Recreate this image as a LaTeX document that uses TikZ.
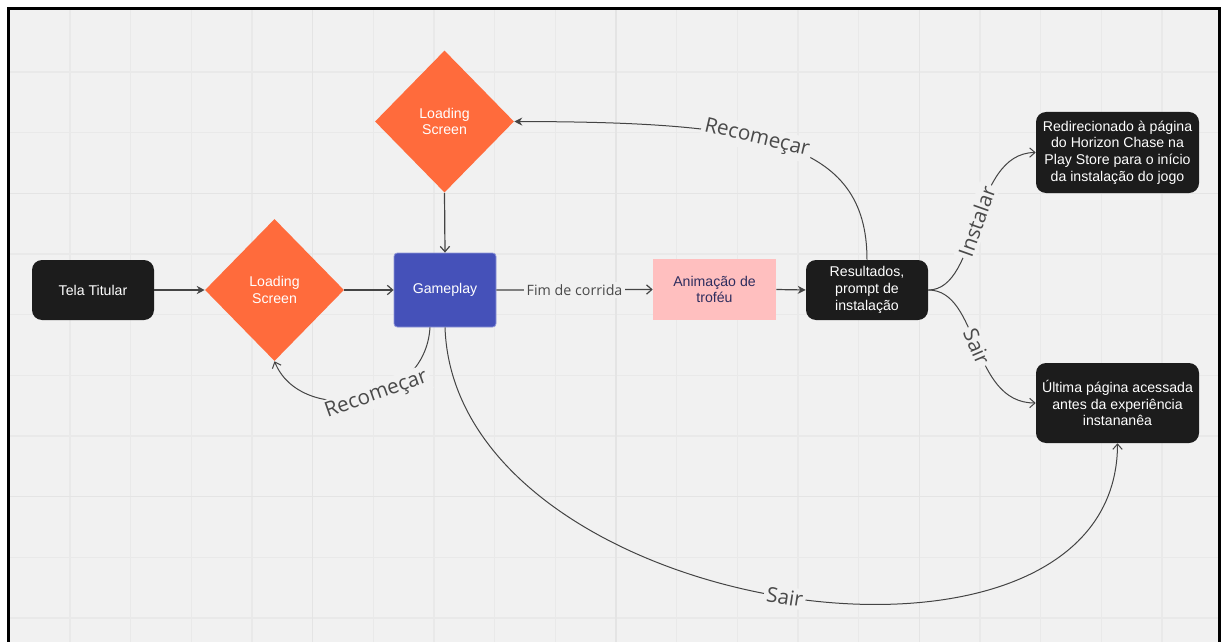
\documentclass[tikz,border=0pt]{standalone}
\usepackage{fontspec}
\setmainfont{Liberation Sans}
\newfontfamily\lblfont{Open Sans}
\usetikzlibrary{arrows.meta,shapes.geometric}
\definecolor{bgc}{HTML}{F1F1F1}
\definecolor{gridc}{HTML}{E9E9E9}
\definecolor{gridd}{HTML}{E4E4E4}
\definecolor{blk}{HTML}{1C1C1C}
\definecolor{orng}{HTML}{FF6B3C}
\definecolor{blu}{HTML}{4551B9}
\definecolor{blub}{HTML}{8E95D8}
\definecolor{pnk}{HTML}{FFBFBF}
\definecolor{pnktxt}{HTML}{2E2D5E}
\definecolor{edgec}{HTML}{444444}
\definecolor{lblc}{HTML}{4A4A4A}
\tikzset{
  nodefont/.style={font=\fontsize{10.6}{12.5}\selectfont, align=center},
  blkbox/.style={nodefont, rectangle, rounded corners=7.5pt, fill=blk, text=white, inner sep=0pt},
  dia/.style={nodefont, diamond, fill=orng, text=white, inner sep=0pt, minimum width=104.25pt, minimum height=106.5pt},
  gamebox/.style={nodefont, rectangle, rounded corners=2.5pt, fill=blu, draw=blub, line width=0.6pt, text=white, minimum width=76.5pt, minimum height=55.5pt},
  pinkbox/.style={nodefont, rectangle, fill=pnk, text=pnktxt, minimum width=92.25pt, minimum height=45.75pt},
  edge/.style={draw=edgec, line width=0.9pt},
  cedge/.style={draw=edgec, line width=0.75pt},
  openarr/.style={-{Straight Barb[length=4pt,width=7pt]}},
  solidarr/.style={-{Stealth[length=6pt,width=6pt]}},
  lbl/.style={font=\lblfont\fontsize{15.5}{18}\selectfont, text=lblc, fill=bgc, inner sep=2pt},
  flbl/.style={font=\lblfont\fontsize{10.7}{13}\selectfont, text=lblc, fill=bgc, inner sep=2pt}
}
\begin{document}
\begin{tikzpicture}[x=0.75pt,y=-0.75pt]
\useasboundingbox (0,0) rectangle (1221,642);
\fill[white] (0,0) rectangle (1221,642);
\fill[bgc] (8.5,8.5) rectangle (1219.5,642);
\begin{scope}
\clip (8.5,8.5) rectangle (1219.5,642);
\foreach \i in {0,...,18} {
  \draw[gridc, line width=1pt] ({70+60.67*\i},8.5) -- ({70+60.67*\i},642);
}
\foreach \j in {0,...,9} {
  \draw[gridc, line width=1pt] (8.5,{72+60.67*\j}) -- (1219.5,{72+60.67*\j});
}
\foreach \i in {4,9,14} {
  \draw[gridd, line width=1pt] ({70+60.67*\i},8.5) -- ({70+60.67*\i},642);
}
\foreach \j in {2,7} {
  \draw[gridd, line width=1pt] (8.5,{72+60.67*\j}) -- (1219.5,{72+60.67*\j});
}
\end{scope}
\draw[black, line width=2.3pt] (8.5,642) -- (8.5,8.5) -- (1219.5,8.5) -- (1219.5,642);

% nodes
\node[blkbox, minimum width=91.5pt, minimum height=45pt] (tela) at (93,290) {Tela Titular};
\node[dia] (ls1) at (274.5,290) {Loading\\Screen};
\node[gamebox] (game) at (445,290) {Gameplay};
\node[dia] (ls2) at (444.5,121.5) {Loading\\Screen};
\node[pinkbox] (anim) at (714.5,289.5) {Animação de\\troféu};
\node[blkbox, minimum width=91.5pt, minimum height=45pt] (res) at (867,290) {Resultados,\\prompt de\\instalação};
\node[blkbox, minimum width=122.25pt, minimum height=60.75pt] (redir) at (1117.5,152.5) {Redirecionado à página\\do Horizon Chase na\\Play Store para o início\\da instalação do jogo};
\node[blkbox, minimum width=122.25pt, minimum height=60pt] (ult) at (1117.5,403) {Última página acessada\\antes da experiência\\instananêa};

% straight connectors
\draw[edge, solidarr] (tela.east) -- (ls1.west);
\draw[edge, openarr] (ls1.east) -- (game.west);
\draw[edge, openarr] (ls2.south) -- (game.north);
\draw[edge, openarr] (game.east) -- node[flbl] {Fim de corrida} (anim.west);
\draw[edge, solidarr] (anim.east) -- (res.west);

% curved connectors
\draw[cedge, solidarr] (res.north) .. controls (867,140) and (760,122) .. (ls2.east)
  node[lbl, pos=0.57, sloped] {Recomeçar};
\draw[cedge, openarr] ([xshift=-11.25pt]game.south) .. controls (425,410) and (300,425) .. (ls1.south)
  node[lbl, pos=0.42, sloped] {Recomeçar};
\draw[cedge, openarr] (game.south) .. controls (455,620) and (1117,715) .. (ult.south)
  node[lbl, pos=0.5, sloped] {Sair};
\draw[cedge, openarr] (res.east) .. controls (980,290) and (970,153) .. (redir.west)
  node[lbl, pos=0.5, sloped] {Instalar};
\draw[cedge, openarr] (res.east) .. controls (980,290) and (970,403) .. (ult.west)
  node[lbl, pos=0.5, sloped] {Sair};
\end{tikzpicture}
\end{document}
